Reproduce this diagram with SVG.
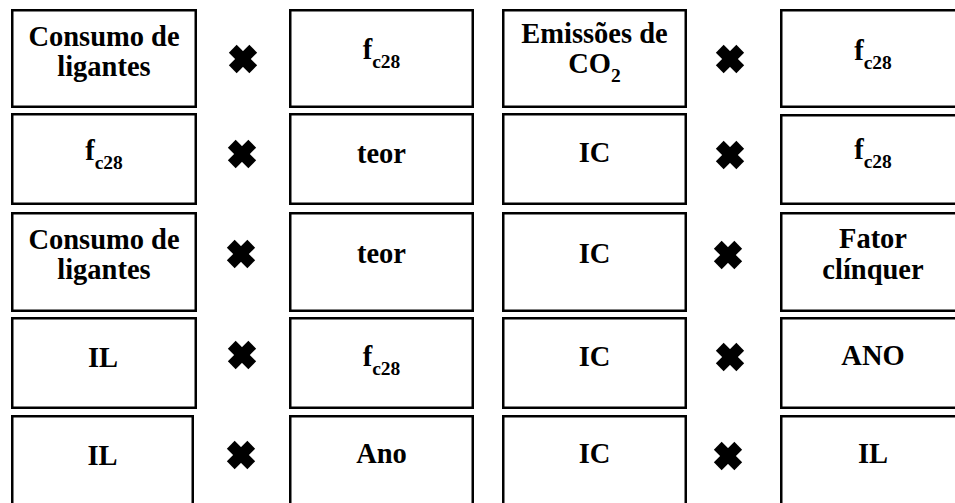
<svg xmlns="http://www.w3.org/2000/svg" width="955" height="503" viewBox="0 0 955 503">
  <style>
    .box { fill: #ffffff; stroke: #000000; stroke-width: 2.5; }
    .lbl { font-family: "Liberation Serif", "Times New Roman", serif; font-weight: bold; font-size: 28.5px; fill: #000000; text-anchor: middle; }
    .sub { font-size: 19.5px; }
    .times { fill: #000000; }
  </style>
  <defs>
    <!-- heavy multiplication cross -->
    <g id="cross">
      <rect x="-14.5" y="-5.5" width="29" height="11" transform="rotate(45)"/>
      <rect x="-14.5" y="-5.5" width="29" height="11" transform="rotate(-45)"/>
    </g>
  </defs>
  <rect width="955" height="503" fill="#ffffff"/>

  <!-- row 1 -->
  <g id="r1c1"><rect class="box" x="12.25" y="10.25" width="183.5" height="96.5"/>
    <text class="lbl" x="104" y="45.5">Consumo de</text>
    <text class="lbl" x="104" y="75.5">ligantes</text></g>
  <g id="r1c2"><rect class="box" x="290.25" y="10.25" width="182.5" height="96.5"/>
    <text class="lbl" x="381.5" y="59">f<tspan class="sub" dy="9">c28</tspan></text></g>
  <g id="r1c3"><rect class="box" x="503.25" y="10.25" width="182.5" height="96.5"/>
    <text class="lbl" x="594.5" y="42.5">Emissões de</text>
    <text class="lbl" x="594.5" y="72.5">CO<tspan class="sub" dy="9.5">2</tspan></text></g>
  <g id="r1c4"><rect class="box" x="781.25" y="10.25" width="190" height="96.5"/>
    <text class="lbl" x="873" y="60">f<tspan class="sub" dy="9">c28</tspan></text></g>

  <!-- row 2 -->
  <g id="r2c1"><rect class="box" x="12.25" y="114.25" width="183.5" height="89.5"/>
    <text class="lbl" x="104" y="160">f<tspan class="sub" dy="9">c28</tspan></text></g>
  <g id="r2c2"><rect class="box" x="290.25" y="114.25" width="182.5" height="89.5"/>
    <text class="lbl" x="381.5" y="163">teor</text></g>
  <g id="r2c3"><rect class="box" x="503.25" y="114.25" width="182.5" height="89.5"/>
    <text class="lbl" x="594.5" y="162">IC</text></g>
  <g id="r2c4"><rect class="box" x="781.25" y="115.25" width="190" height="88.5"/>
    <text class="lbl" x="873" y="159">f<tspan class="sub" dy="9">c28</tspan></text></g>

  <!-- row 3 -->
  <g id="r3c1"><rect class="box" x="12.25" y="213.25" width="183.5" height="97.5"/>
    <text class="lbl" x="104" y="248.5">Consumo de</text>
    <text class="lbl" x="104" y="278.5">ligantes</text></g>
  <g id="r3c2"><rect class="box" x="290.25" y="213.25" width="182.5" height="97.5"/>
    <text class="lbl" x="381.5" y="263">teor</text></g>
  <g id="r3c3"><rect class="box" x="503.25" y="213.25" width="182.5" height="97.5"/>
    <text class="lbl" x="594.5" y="263">IC</text></g>
  <g id="r3c4"><rect class="box" x="781.25" y="213.25" width="190" height="97.5"/>
    <text class="lbl" x="873" y="248">Fator</text>
    <text class="lbl" x="873" y="278.5">clínquer</text></g>

  <!-- row 4 -->
  <g id="r4c1"><rect class="box" x="12.25" y="318.25" width="183.5" height="89.5"/>
    <text class="lbl" x="103" y="367">IL</text></g>
  <g id="r4c2"><rect class="box" x="290.25" y="318.25" width="182.5" height="89.5"/>
    <text class="lbl" x="381.5" y="366">f<tspan class="sub" dy="9">c28</tspan></text></g>
  <g id="r4c3"><rect class="box" x="503.25" y="318.25" width="182.5" height="89.5"/>
    <text class="lbl" x="594.5" y="366">IC</text></g>
  <g id="r4c4"><rect class="box" x="781.25" y="318.25" width="190" height="89.5"/>
    <text class="lbl" x="873" y="365">ANO</text></g>

  <!-- row 5 -->
  <g id="r5c1"><rect class="box" x="12.25" y="416.25" width="180.5" height="100"/>
    <text class="lbl" x="102.5" y="465">IL</text></g>
  <g id="r5c2"><rect class="box" x="290.25" y="416.25" width="182.5" height="100"/>
    <text class="lbl" x="381.5" y="463">Ano</text></g>
  <g id="r5c3"><rect class="box" x="503.25" y="416.25" width="182.5" height="100"/>
    <text class="lbl" x="594.5" y="463">IC</text></g>
  <g id="r5c4"><rect class="box" x="781.25" y="416.25" width="190" height="100"/>
    <text class="lbl" x="873" y="463">IL</text></g>

  <!-- multiplication signs between paired boxes -->
  <g id="connectors" class="times">
    <use href="#cross" x="243" y="59"/>
    <use href="#cross" x="730" y="59"/>
    <use href="#cross" x="242" y="154"/>
    <use href="#cross" x="730" y="155"/>
    <use href="#cross" x="241" y="254"/>
    <use href="#cross" x="728" y="255"/>
    <use href="#cross" x="242" y="355"/>
    <use href="#cross" x="730" y="357"/>
    <use href="#cross" x="241" y="455"/>
    <use href="#cross" x="728" y="456"/>
  </g>
</svg>
